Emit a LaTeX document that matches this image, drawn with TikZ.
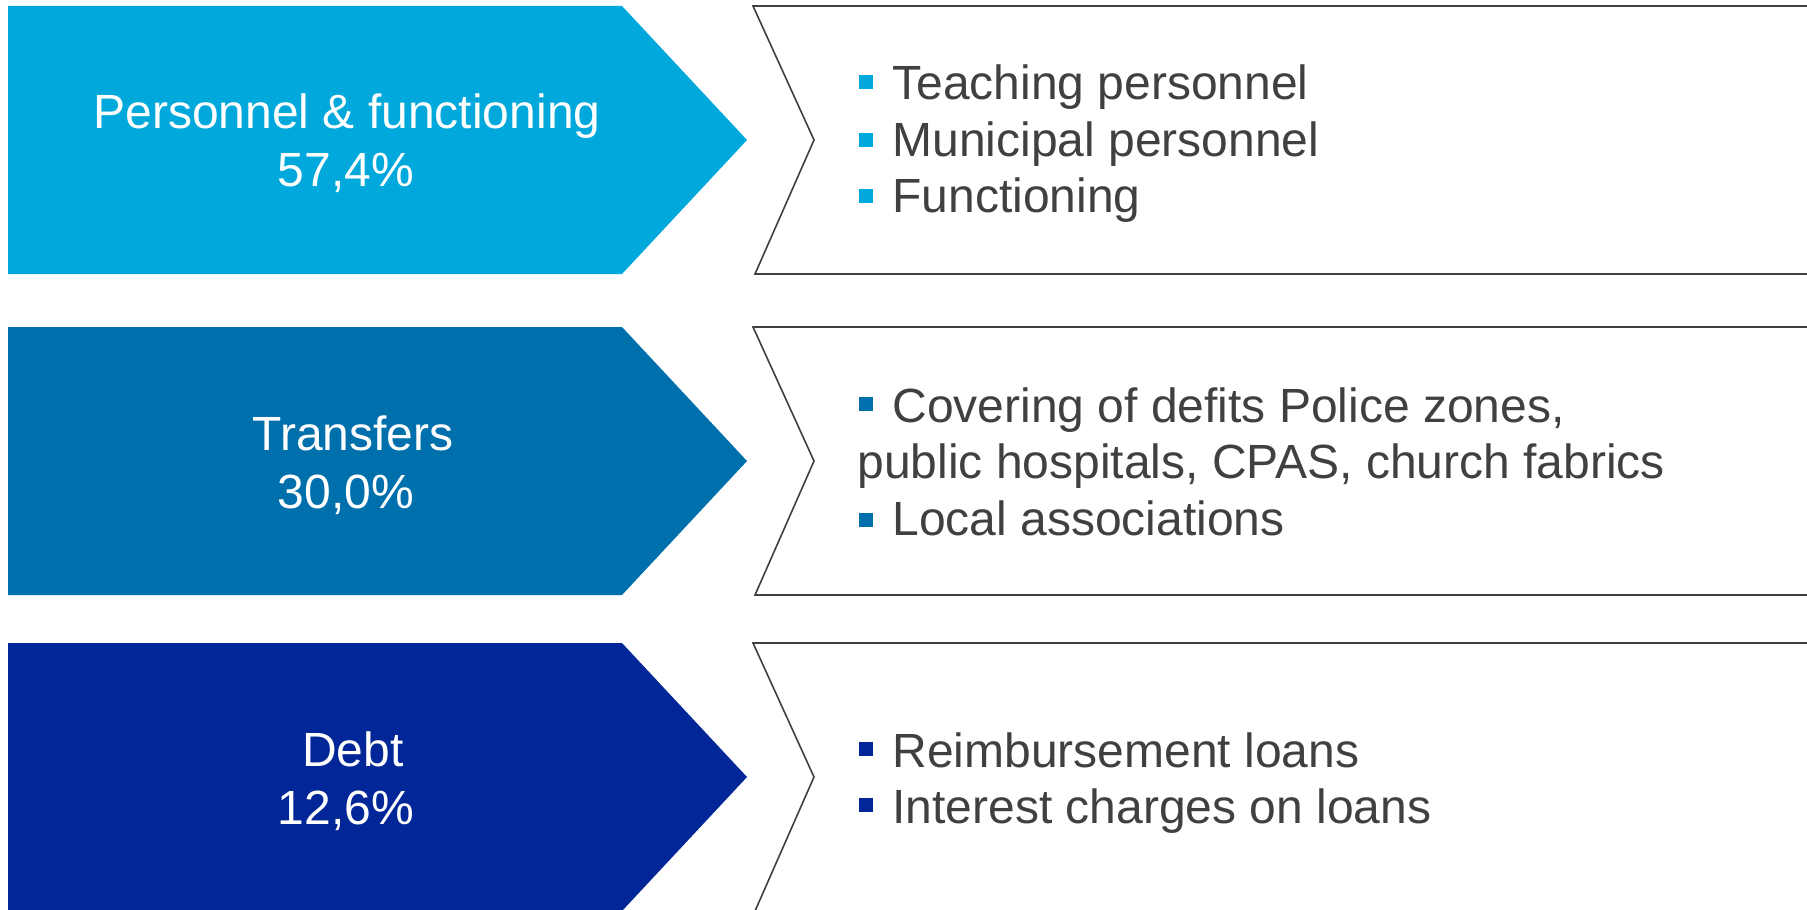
\documentclass[tikz,border=0pt]{standalone}
\usepackage{fontspec}
\setmainfont{Liberation Sans}
\definecolor{cA}{RGB}{0,168,219}
\definecolor{cB}{RGB}{0,112,173}
\definecolor{cC}{RGB}{0,38,151}
\definecolor{txt}{RGB}{64,64,64}
\definecolor{bord}{RGB}{64,64,64}
\tikzset{
  lefttxt/.style={anchor=base,text=white,inner sep=0pt,font=\fontsize{24pt}{29pt}\selectfont},
  righttxt/.style={anchor=base west,text=txt,inner sep=0pt,font=\fontsize{24pt}{29pt}\selectfont},
  rightbox/.style={draw=bord,line width=0.8pt,fill=white,line join=miter},
}
\begin{document}
\begin{tikzpicture}[x=0.5pt,y=-0.5pt]
\useasboundingbox (0,0) rectangle (1807,909);
% chevrons (left) and outlined boxes (right)
\foreach \top/\col [count=\i] in {6/cA,327/cB,643/cC}{
  \pgfmathsetmacro{\bot}{\top+268}
  \pgfmathsetmacro{\mid}{\top+134}
  \fill[\col] (8,\top) -- (622,\top) -- (747,\mid) -- (622,\bot) -- (8,\bot) -- cycle;
  \draw[rightbox] (1812,\top) -- (753,\top) -- (814,\mid) -- (755,\bot) -- (1812,\bot);
}
% left labels
\node[lefttxt] (l1a) at (347,129) {Personnel \& functioning};
\node[lefttxt] (l1b) at (346,187) {57,4\%};
\node[lefttxt] (l2a) at (353,450) {Transfers};
\node[lefttxt] (l2b) at (346,508) {30,0\%};
\node[lefttxt] (l3a) at (353,766) {Debt};
\node[lefttxt] (l3b) at (346,824) {12,6\%};
% right texts row 1
\fill[cA] (859,75) rectangle (873,89);
\node[righttxt] (r1a) at (892,100) {Teaching personnel};
\fill[cA] (859,133) rectangle (873,147);
\node[righttxt] (r1b) at (892,157) {Municipal personnel};
\fill[cA] (859,189) rectangle (873,203);
\node[righttxt] (r1c) at (892,213) {Functioning};
% row 2
\fill[cB] (859,397) rectangle (873,411);
\node[righttxt] (r2a) at (892,422) {Covering of defits Police zones,};
\node[righttxt] (r2b) at (857,478) {public hospitals, CPAS, church fabrics};
\fill[cB] (859,513) rectangle (873,527);
\node[righttxt] (r2c) at (892,535) {Local associations};
% row 3
\fill[cC] (859,742) rectangle (873,756);
\node[righttxt] (r3a) at (892,767) {Reimbursement loans};
\fill[cC] (859,798) rectangle (873,812);
\node[righttxt] (r3b) at (892,823) {Interest charges on loans};
\end{tikzpicture}
\end{document}
